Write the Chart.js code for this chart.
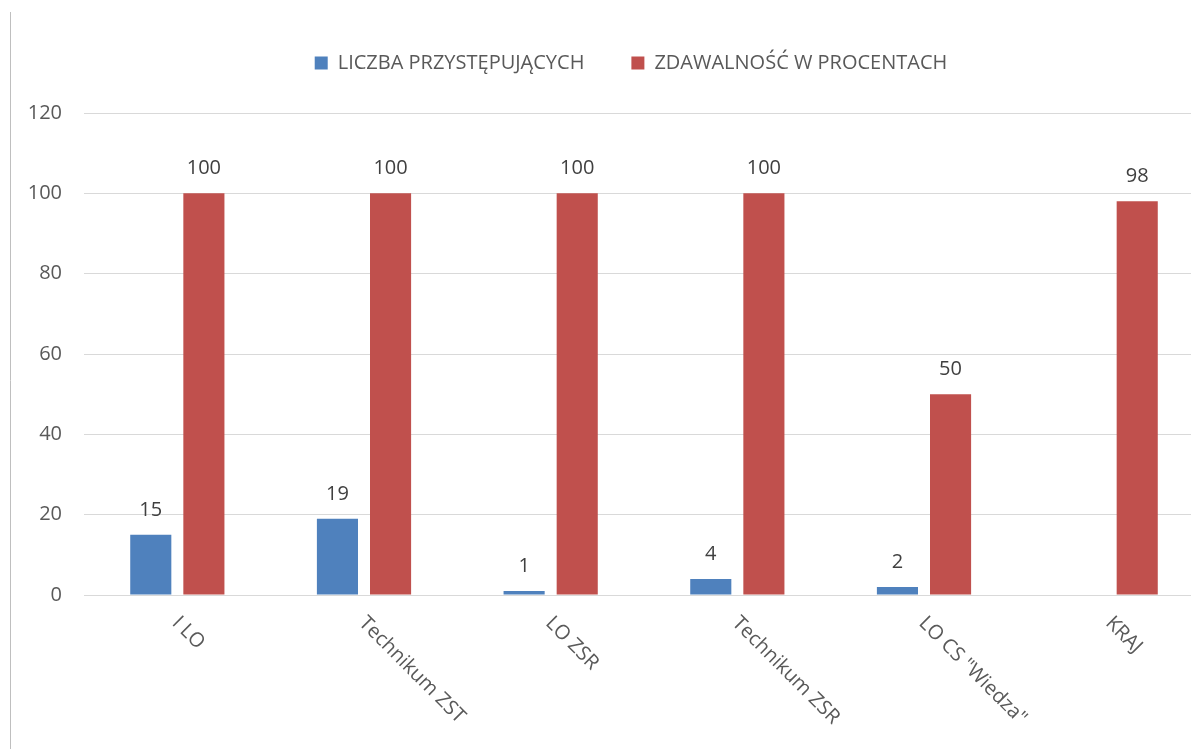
<!DOCTYPE html>
<html>
<head>
<meta charset="utf-8">
<script src="https://cdn.jsdelivr.net/npm/chart.js@4.4.0/dist/chart.umd.min.js"></script>
<style>
  html, body { margin: 0; padding: 0; background: #fff; overflow: hidden; }
  .chart-box { position: relative; width: 1204px; height: 749px; }
</style>
</head>
<body>
<div class="chart-box"><canvas id="matura"></canvas></div>
<script>
const categories = ['I LO', 'Technikum ZST', 'LO ZSR', 'Technikum ZSR', 'LO CS "Wiedza"', 'KRAJ'];
const liczbaPrzystepujacych = [15, 19, 1, 4, 2, null];
const zdawalnosc = [100, 100, 100, 100, 50, 98];
const yTicks = [0, 20, 40, 60, 80, 100, 120];

const FONT = "'Open Sans', 'Noto Sans', sans-serif";

// value labels above the bars, rotated category labels, frame line
const excelLook = {
  id: 'excelLook',
  afterLayout(chart) {
    const lg = chart.legend;
    if (!lg) return;
    const dx = 631 - (lg.left + lg.right) / 2;
    lg.left += dx;
    lg.right += dx;
    const h = lg.bottom - lg.top;
    lg.top = 6;
    lg.bottom = 6 + h;
  },
  afterDatasetsDraw(chart) {
    const ctx = chart.ctx;
    ctx.save();
    ctx.font = '20px ' + FONT;
    ctx.fillStyle = '#404040';
    ctx.textAlign = 'center';
    ctx.textBaseline = 'alphabetic';
    chart.data.datasets.forEach((ds, i) => {
      chart.getDatasetMeta(i).data.forEach((bar, j) => {
        const v = ds.data[j];
        if (v === null || v === undefined) return;
        ctx.fillText(String(v), bar.x, bar.y - 19);
      });
    });
    ctx.restore();
  },
  afterDraw(chart) {
    const ctx = chart.ctx;
    const xs = chart.scales.x;
    ctx.save();
    ctx.font = '20px ' + FONT;
    ctx.fillStyle = '#595959';
    ctx.textAlign = 'left';
    ctx.textBaseline = 'middle';
    categories.forEach((label, i) => {
      const x = xs.getPixelForTick(i);
      ctx.save();
      ctx.translate(x - 2, 620);
      ctx.rotate(Math.PI / 4);
      ctx.fillText(label, 0, 0);
      ctx.restore();
    });
    ctx.strokeStyle = '#bfbfbf';
    ctx.lineWidth = 1;
    ctx.beginPath();
    ctx.moveTo(10.5, 12);
    ctx.lineTo(10.5, 749);
    ctx.stroke();
    ctx.restore();
  }
};

new Chart(document.getElementById('matura'), {
  type: 'bar',
  data: {
    labels: categories,
    datasets: [{
      label: 'LICZBA PRZYSTĘPUJĄCYCH',
      data: liczbaPrzystepujacych,
      backgroundColor: '#4F81BD',
      barPercentage: 0.774,
      categoryPercentage: 0.569
    }, {
      label: 'ZDAWALNOŚĆ W PROCENTACH',
      data: zdawalnosc,
      backgroundColor: '#C0504D',
      barPercentage: 0.774,
      categoryPercentage: 0.569
    }]
  },
  options: {
    responsive: true,
    maintainAspectRatio: false,
    animation: false,
    layout: { padding: { top: 36, left: 0, right: 0, bottom: 0 } },
    plugins: {
      legend: {
        position: 'top',
        labels: {
          font: { family: FONT, size: 20 },
          color: '#595959',
          boxWidth: 13,
          boxHeight: 13,
          padding: 47
        }
      },
      tooltip: { enabled: false }
    },
    scales: {
      x: {
        grid: { display: false },
        border: { display: false },
        ticks: { display: false },
        afterFit(scale) { scale.height = 154; }
      },
      y: {
        min: 0,
        max: 120,
        afterBuildTicks(scale) { scale.ticks = yTicks.map(v => ({ value: v })); },
        grid: { color: '#d9d9d9', drawTicks: false },
        border: { display: false },
        ticks: {
          font: { family: FONT, size: 20 },
          color: '#595959',
          padding: 22
        },
        afterFit(scale) { scale.width = 84; }
      }
    }
  },
  plugins: [excelLook]
});
</script>
</body>
</html>
